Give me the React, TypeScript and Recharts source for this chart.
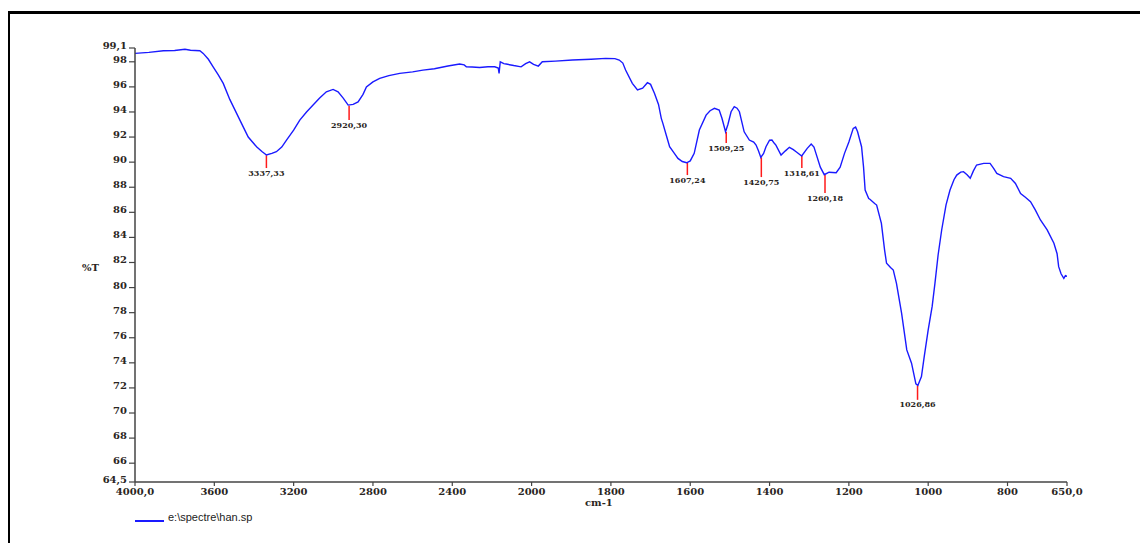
import {
  LineChart,
  Line,
  XAxis,
  YAxis,
  ReferenceLine,
  ReferenceDot,
} from "recharts";

// ── Spectrum data ─────────────────────────────────────────────────────────────

const wavenumbers = [
  4000, 3930, 3857, 3800, 3748, 3720, 3673, 3656, 3630, 3606, 3580, 3555, 3522,
  3471, 3429, 3387, 3360, 3337, 3310, 3287, 3260, 3236, 3200, 3169, 3135, 3102,
  3070, 3035, 3001, 2976, 2950, 2925, 2900, 2875, 2850, 2833, 2800, 2766, 2720,
  2665, 2600, 2548, 2490, 2422, 2363, 2340, 2329, 2300, 2262, 2220, 2186, 2168,
  2164, 2158, 2140, 2128, 2090, 2053, 2030, 2010, 1995, 1983, 1973, 1940, 1897,
  1850, 1813, 1790, 1779, 1770, 1763, 1746, 1733, 1720, 1708, 1700, 1690, 1680,
  1673, 1669, 1660, 1652, 1640, 1631, 1620, 1609, 1600, 1590, 1577, 1560, 1550,
  1539, 1527, 1520, 1511, 1505, 1497, 1489, 1482, 1476, 1464, 1451, 1440, 1434,
  1428, 1422, 1415, 1409, 1400, 1394, 1388, 1384, 1371, 1360, 1350, 1340, 1333,
  1319, 1305, 1295, 1288, 1283, 1272, 1262, 1250, 1232, 1222, 1211, 1200, 1189,
  1183, 1178, 1168, 1163, 1159, 1150, 1147, 1135, 1130, 1118, 1110, 1105, 1095,
  1088, 1080, 1067, 1054, 1042, 1031, 1026, 1017, 1010, 1000, 990, 983, 975,
  966, 955, 945, 935, 928, 918, 911, 902, 894, 886, 878, 860, 844, 835, 827,
  810, 792, 780, 767, 755, 742, 730, 717, 700, 683, 675, 671, 665, 658, 654,
  650,
];

const transmittance = [
  98.67, 98.75, 98.88, 98.9, 99.0, 98.92, 98.88, 98.67, 98.2, 97.6, 96.95,
  96.28, 95.0, 93.35, 92.0, 91.23, 90.85, 90.57, 90.7, 90.83, 91.2, 91.76,
  92.55, 93.35, 94.0, 94.55, 95.1, 95.61, 95.8, 95.6, 95.1, 94.55, 94.6, 94.8,
  95.4, 96.0, 96.4, 96.68, 96.9, 97.08, 97.2, 97.34, 97.45, 97.66, 97.82,
  97.75, 97.6, 97.58, 97.55, 97.6, 97.6, 97.5, 97.08, 98.0, 97.85, 97.82,
  97.7, 97.6, 97.85, 98.0, 97.8, 97.66, 98.0, 98.05, 98.14, 98.2, 98.27,
  98.25, 98.14, 97.9, 97.34, 96.28, 95.75, 95.9, 96.33, 96.2, 95.48, 94.6,
  93.49, 93.09, 92.1, 91.23, 90.7, 90.3, 90.05, 89.95, 90.1, 90.7, 92.56,
  93.75, 94.1, 94.29, 94.15, 93.5, 92.42, 93.0, 94.02, 94.42, 94.3, 94.02,
  92.42, 91.76, 91.6, 91.36, 90.9, 90.38, 90.7, 91.23, 91.75, 91.76, 91.5,
  91.36, 90.57, 90.9, 91.18, 91.0, 90.83, 90.49, 91.1, 91.44, 91.2, 90.7,
  89.6, 89.0, 89.2, 89.16, 89.6, 90.7, 91.6, 92.69, 92.8, 92.42, 91.23, 89.6,
  87.78, 87.1, 87.04, 86.7, 86.58, 85.12, 83.0, 81.94, 81.6, 81.4, 80.34,
  77.95, 75.03, 73.97, 72.32, 72.2, 72.9, 74.5, 76.62, 78.5, 80.34, 82.6,
  84.59, 86.6, 87.78, 88.6, 88.97, 89.2, 89.24, 89.0, 88.71, 89.3, 89.77,
  89.9, 89.9, 89.5, 89.1, 88.85, 88.71, 88.3, 87.5, 87.2, 86.85, 86.2, 85.39,
  84.6, 83.53, 82.7, 81.67, 81.1, 80.74, 80.95, 80.9,
];

// Labelled peaks: position, %T at the curve, %T where the red marker ends
const peakWavenumbers = [3337.33, 2920.3, 1607.24, 1509.25, 1420.75, 1318.61, 1260.18, 1026.86];
const peakTops = [90.55, 94.5, 89.95, 92.4, 90.38, 90.5, 89.0, 72.2];
const peakTails = [89.53, 93.35, 88.97, 91.52, 88.81, 89.53, 87.54, 71.05];

const xTickWavenumbers = [4000, 3600, 3200, 2800, 2400, 2000, 1800, 1600, 1400, 1200, 1000, 800, 650];
const yTicks = [64.5, 66, 68, 70, 72, 74, 76, 78, 80, 82, 84, 86, 88, 90, 92, 94, 96, 98, 99.1];

// Instrument axis is split at 2000 cm-1: the low-wavenumber half is stretched 2x
const toAxis = (wn: number) => (wn >= 2000 ? (4000 - wn) / 2 : 1000 + (2000 - wn));
const fromAxis = (u: number) => (u <= 1000 ? 4000 - 2 * u : 2000 - (u - 1000));

const rows = wavenumbers.map((wn, i) => ({ u: toAxis(wn), t: transmittance[i] }));
const xTicks = xTickWavenumbers.map(toAxis);

const comma = (s: string) => s.replace(".", ",");

const AXIS_FONT = "'DejaVu Serif', serif";
const TEXT = "#2a2522";

function XTick({ x, y, payload }: any) {
  const wn = Math.round(fromAxis(payload.value));
  const label = wn === 4000 || wn === 650 ? comma(wn.toFixed(1)) : String(wn);
  return (
    <text x={x} y={y} dy={9} textAnchor="middle" fontSize={10} fontWeight="bold" fontFamily={AXIS_FONT} fill={TEXT}>
      {label}
    </text>
  );
}

function YTick({ x, y, payload }: any) {
  return (
    <text x={x} y={y} dy={1} textAnchor="end" fontSize={10} fontWeight="bold" fontFamily={AXIS_FONT} fill={TEXT}>
      {comma(String(payload.value))}
    </text>
  );
}

export default function App() {
  return (
    <div style={{ position: "absolute", left: 0, top: 0, width: 1140, height: 543, overflow: "hidden", background: "#fff" }}>
      {/* partial frame around the printout */}
      <div
        style={{
          position: "absolute",
          left: 8,
          top: 11,
          width: 1200,
          height: 600,
          borderTop: "3px solid #000",
          borderLeft: "2px solid #000",
        }}
      />

      <div style={{ position: "absolute", left: 0, top: 0 }}>
        <LineChart width={1140} height={543} data={rows} margin={{ top: 48, right: 73, bottom: 31, left: 95 }}>
          <XAxis
            dataKey="u"
            type="number"
            domain={[0, 2350]}
            ticks={xTicks}
            interval={0}
            height={30}
            tickSize={4}
            tickMargin={0}
            tick={<XTick />}
            axisLine={{ stroke: "#444", strokeWidth: 1.5 }}
            tickLine={{ stroke: "#444", strokeWidth: 1.2 }}
            allowDataOverflow
          />
          <YAxis
            type="number"
            domain={[64.5, 99.1]}
            ticks={yTicks}
            interval={0}
            width={40}
            tickSize={6}
            tickMargin={2}
            tick={<YTick />}
            axisLine={{ stroke: "#444", strokeWidth: 1.5 }}
            tickLine={{ stroke: "#444", strokeWidth: 1.2 }}
            allowDataOverflow
          />

          {peakWavenumbers.map((wn, i) => (
            <ReferenceLine
              key={`pl-${wn}`}
              segment={[
                { x: toAxis(wn), y: peakTops[i] },
                { x: toAxis(wn), y: peakTails[i] },
              ]}
              stroke="#ff1a1a"
              strokeWidth={1.5}
            />
          ))}

          <Line
            type="linear"
            dataKey="t"
            stroke="#1a1aff"
            strokeWidth={1.4}
            dot={false}
            activeDot={false}
            isAnimationActive={false}
          />

          {peakWavenumbers.map((wn, i) => (
            <ReferenceDot
              key={`pt-${wn}`}
              x={toAxis(wn)}
              y={peakTails[i]}
              r={0}
              shape={(p: any) => (
                <text
                  x={p.cx}
                  y={p.cy}
                  dy={7.5}
                  textAnchor="middle"
                  fontSize={8}
                  fontWeight="bold"
                  fontFamily={AXIS_FONT}
                  fill={TEXT}
                >
                  {comma(wn.toFixed(2))}
                </text>
              )}
            />
          ))}
        </LineChart>
      </div>

      {/* axis titles */}
      <div style={{ position: "absolute", left: 82, top: 262, fontFamily: AXIS_FONT, fontSize: 10, fontWeight: "bold", color: TEXT }}>
        %T
      </div>
      <div style={{ position: "absolute", left: 585, top: 498, fontFamily: AXIS_FONT, fontSize: 10, fontWeight: "bold", color: TEXT, lineHeight: "10px" }}>
        cm-1
      </div>

      {/* legend */}
      <div style={{ position: "absolute", left: 135, top: 520, width: 29, height: 2, background: "#1a1aff" }} />
      <div style={{ position: "absolute", left: 168, top: 511, fontFamily: "'Liberation Sans', Arial, sans-serif", fontSize: 11, color: "#222" }}>
        e:\spectre\han.sp
      </div>
    </div>
  );
}
